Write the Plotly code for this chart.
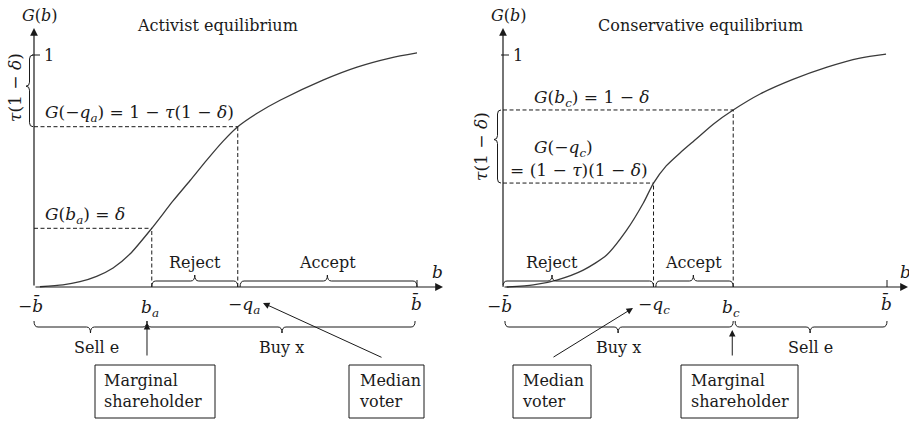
import plotly.graph_objects as go

# ---------------- values ----------------
# b runs from -b_bar (=-1) to b_bar (=1); G(b) is a cdf between 0 and 1
b_bar = 1.0

# Activist equilibrium
act_b = [-0.969, -0.849, -0.760, -0.673, -0.587, -0.499, -0.385, -0.273, -0.185,
         -0.098, -0.011, 0.064, 0.163, 0.285, 0.509, 0.687, 0.859, 1.0]
act_G = [0.001, 0.009, 0.023, 0.046, 0.082, 0.142, 0.253, 0.372, 0.459,
         0.547, 0.630, 0.691, 0.748, 0.805, 0.892, 0.948, 0.987, 1.009]
b_a = -0.385        # marginal shareholder, G(b_a) = delta
G_b_a = 0.253
neg_q_a = 0.064     # median voter, G(-q_a) = 1 - tau(1 - delta)
G_neg_q_a = 0.691

# Conservative equilibrium
con_b = [-0.981, -0.842, -0.720, -0.582, -0.460, -0.356, -0.269, -0.216, -0.150,
         -0.078, 0.009, 0.095, 0.199, 0.339, 0.510, 0.688, 0.859, 0.995]
con_G = [0.0, 0.009, 0.030, 0.073, 0.138, 0.245, 0.362, 0.448, 0.522,
         0.578, 0.640, 0.702, 0.763, 0.832, 0.895, 0.948, 0.987, 1.004]
neg_q_c = -0.216    # median voter, G(-q_c) = (1 - tau)(1 - delta)
G_neg_q_c = 0.448
b_c = 0.199         # marginal shareholder, G(b_c) = 1 - delta
G_b_c = 0.763

# ---------------- page geometry ----------------
FIG_W, FIG_H = 909, 422
PANEL_PX = [(0, 460), (460, 909)]
ORIGIN_PX = [34, 503]      # pixel column of -b_bar
BBAR_PX = [417, 887]       # pixel column of b_bar
ZERO_PY, ONE_PY = 287, 55  # pixel rows of G=0 and G=1
KX = [2 * b_bar / (BBAR_PX[i] - ORIGIN_PX[i]) for i in range(2)]
KY = 1.0 / (ZERO_PY - ONE_PY)

FONT = "DejaVu Serif"
INK = "#1a1a1a"
REFS = [("x", "y"), ("x2", "y2")]


def X(p, px):
    return -b_bar + (px - ORIGIN_PX[p]) * KX[p]


def Y(py):
    return (ZERO_PY - py) * KY


fig = go.Figure()
shapes, annotations = [], []


def seg(p, x0, y0, x1, y1, dash="solid", width=1.0, color=INK):
    xr, yr = REFS[p]
    shapes.append(dict(type="line", xref=xr, yref=yr, x0=x0, y0=y0, x1=x1, y1=y1,
                       line=dict(color=color, width=width, dash=dash)))


def arrow(p, tx, ty, hx, hy, width=1.0):
    xr, yr = REFS[p]
    annotations.append(dict(xref=xr, yref=yr, axref=xr, ayref=yr, x=hx, y=hy, ax=tx, ay=ty,
                            text="", showarrow=True, arrowhead=2, arrowsize=1.3,
                            arrowwidth=width, arrowcolor=INK, standoff=0, startstandoff=0))


def text(p, x, y, s, xanchor="center", size=16, angle=0, align="left"):
    xr, yr = REFS[p]
    annotations.append(dict(xref=xr, yref=yr, x=x, y=y, text=s, showarrow=False,
                            xanchor=xanchor, yanchor="middle", textangle=angle, align=align,
                            font=dict(family=FONT, size=size, color=INK)))


def box(p, x0, y0, x1, y1):
    xr, yr = REFS[p]
    shapes.append(dict(type="rect", xref=xr, yref=yr, x0=x0, y0=y0, x1=x1, y1=y1,
                       line=dict(color=INK, width=1)))


def hbrace(p, x1, x2, y0, tip, sign, h_px=12, r_px=4):
    xr, yr = REFS[p]
    h = h_px * KY * sign
    r = r_px * KX[p]
    ym, yt = y0 + h / 2, y0 + h
    path = (f"M {x1},{y0} Q {x1},{ym} {x1 + r},{ym} L {tip - r},{ym} "
            f"Q {tip},{ym} {tip},{yt} Q {tip},{ym} {tip + r},{ym} "
            f"L {x2 - r},{ym} Q {x2},{ym} {x2},{y0}")
    shapes.append(dict(type="path", xref=xr, yref=yr, path=path,
                       line=dict(color=INK, width=1)))


def vbrace(p, y1, y2, x0, tip, h_px=7, r_px=4):
    xr, yr = REFS[p]
    h = -h_px * KX[p]
    r = r_px * KY
    xm, xt = x0 + h / 2, x0 + h
    path = (f"M {x0},{y1} Q {xm},{y1} {xm},{y1 + r} L {xm},{tip - r} "
            f"Q {xm},{tip} {xt},{tip} Q {xm},{tip} {xm},{tip + r} "
            f"L {xm},{y2 - r} Q {xm},{y2} {x0},{y2}")
    shapes.append(dict(type="path", xref=xr, yref=yr, path=path,
                       line=dict(color=INK, width=1)))


def axes_frame(p, title, cx):
    x0 = -b_bar
    arrow(p, x0, 0, x0, Y(28), width=1.2)
    arrow(p, x0, 0, X(p, [443, 908][p]), 0, width=1.2)
    seg(p, X(p, ORIGIN_PX[p] - 2), 1.0, X(p, ORIGIN_PX[p] + 6), 1.0)
    seg(p, b_bar, 0, b_bar, Y(280))
    text(p, X(p, ORIGIN_PX[p] + 6), Y(15), "<i>G</i>(<i>b</i>)")
    text(p, X(p, cx), Y(25), title)
    text(p, X(p, ORIGIN_PX[p] + 8), 1.0, "1", xanchor="left")
    text(p, X(p, [437, 905][p]), Y(272), "<i>b</i>", size=17)
    text(p, X(p, ORIGIN_PX[p] - 4), Y(305), "−<i>b̄</i>", size=17)
    text(p, b_bar - 0.005, Y(303), "<i>b̄</i>", size=17)


# ---------------- curves ----------------
for p, (bx, gy) in enumerate([(act_b, act_G), (con_b, con_G)]):
    xr, yr = REFS[p]
    fig.add_trace(go.Scatter(x=bx, y=gy, mode="lines", xaxis=xr, yaxis=yr,
                             line=dict(color="#3a3a3a", width=1.3, shape="spline", smoothing=0.7),
                             hoverinfo="skip", showlegend=False))

DASH = "4px,2.5px"

# ---------------- left panel: activist ----------------
p = 0
axes_frame(p, "Activist equilibrium", 217)
seg(p, -b_bar, G_neg_q_a, neg_q_a, G_neg_q_a, dash=DASH)
seg(p, neg_q_a, 0, neg_q_a, G_neg_q_a, dash=DASH)
seg(p, -b_bar, G_b_a, b_a, G_b_a, dash=DASH)
seg(p, b_a, 0, b_a, G_b_a, dash=DASH)
text(p, X(p, 43), Y(113), "<i>G</i>(−<i>q<sub>a</sub></i>) = 1 − <i>τ</i>(1 − <i>δ</i>)", xanchor="left", size=17)
text(p, X(p, 43), Y(215), "<i>G</i>(<i>b<sub>a</sub></i>) = <i>δ</i>", xanchor="left", size=17)
vbrace(p, G_neg_q_a, 1.0, X(p, 33), (G_neg_q_a + 1.0) / 2 + 0.02)
text(p, X(p, 15), Y(88), "<i>τ</i>(1 − <i>δ</i>)", angle=-90, size=17)
hbrace(p, b_a, neg_q_a, 0, (b_a + neg_q_a) / 2, +1)
hbrace(p, neg_q_a + 0.012, b_bar, 0, (neg_q_a + b_bar) / 2, +1)
text(p, (b_a + neg_q_a) / 2, Y(262), "Reject")
text(p, (neg_q_a + b_bar) / 2, Y(262), "Accept")
text(p, b_a - 0.01, Y(308), "<i>b<sub>a</sub></i>", size=17)
text(p, neg_q_a + 0.035, Y(305), "−<i>q<sub>a</sub></i>", size=17)
split = b_a - 0.025
hbrace(p, -b_bar, split, Y(321), (-b_bar + split) / 2, -1)
hbrace(p, split, b_bar - 0.01, Y(321), (split + b_bar) / 2, -1)
text(p, (-b_bar + split) / 2 + 0.03, Y(347), "Sell e")
text(p, (split + b_bar) / 2, Y(347), "Buy x")
arrow(p, split, Y(357), split, Y(323))
box(p, X(p, 95), Y(365), X(p, 215), Y(418))
text(p, X(p, 102), Y(391), "Marginal<br>shareholder", xanchor="left")
box(p, X(p, 349), Y(365), X(p, 424), Y(418))
text(p, X(p, 357), Y(391), "Median<br>voter", xanchor="left")
arrow(p, X(p, 383), Y(358), X(p, 263), Y(303))

# ---------------- right panel: conservative ----------------
p = 1
axes_frame(p, "Conservative equilibrium", 700)
seg(p, -b_bar, G_b_c, b_c, G_b_c, dash=DASH)
seg(p, b_c, 0, b_c, G_b_c, dash=DASH)
seg(p, -b_bar, G_neg_q_c, neg_q_c, G_neg_q_c, dash=DASH)
seg(p, neg_q_c, 0, neg_q_c, G_neg_q_c, dash=DASH)
text(p, X(p, 532), Y(98), "<i>G</i>(<i>b<sub>c</sub></i>) = 1 − <i>δ</i>", xanchor="left", size=17)
text(p, X(p, 532), Y(148), "<i>G</i>(−<i>q<sub>c</sub></i>)", xanchor="left", size=17)
text(p, X(p, 508), Y(170), "= (1 − <i>τ</i>)(1 − <i>δ</i>)", xanchor="left", size=17)
vbrace(p, G_neg_q_c, G_b_c, X(p, 501), (G_neg_q_c + G_b_c) / 2 + 0.03)
text(p, X(p, 481), Y(147), "<i>τ</i>(1 − <i>δ</i>)", angle=-90, size=17)
reject_tip = X(p, 552)
hbrace(p, -b_bar, neg_q_c, 0, reject_tip, +1)
hbrace(p, neg_q_c + 0.012, b_c, 0, (neg_q_c + b_c) / 2, +1)
text(p, reject_tip, Y(262), "Reject")
text(p, (neg_q_c + b_c) / 2, Y(262), "Accept")
text(p, neg_q_c + 0.0, Y(305), "−<i>q<sub>c</sub></i>", size=17)
text(p, b_c - 0.01, Y(308), "<i>b<sub>c</sub></i>", size=17)
hbrace(p, -b_bar + 0.01, b_c, Y(321), (-b_bar + b_c) / 2, -1)
hbrace(p, b_c + 0.01, b_bar, Y(321), (b_c + b_bar) / 2, -1)
text(p, (-b_bar + b_c) / 2, Y(347), "Buy x")
text(p, (b_c + b_bar) / 2, Y(347), "Sell e")
arrow(p, b_c - 0.005, Y(357), b_c - 0.005, Y(330))
box(p, X(p, 513), Y(365), X(p, 591), Y(418))
text(p, X(p, 520), Y(391), "Median<br>voter", xanchor="left")
box(p, X(p, 681), Y(365), X(p, 798), Y(418))
text(p, X(p, 689), Y(391), "Marginal<br>shareholder", xanchor="left")
arrow(p, X(p, 552), Y(358), X(p, 633), Y(308))

# ---------------- layout ----------------
hidden = dict(visible=False, showgrid=False, zeroline=False, fixedrange=True)
fig.update_layout(
    width=FIG_W, height=FIG_H,
    margin=dict(l=0, r=0, t=0, b=0),
    paper_bgcolor="white", plot_bgcolor="white",
    showlegend=False,
    xaxis=dict(hidden, domain=[PANEL_PX[0][0] / FIG_W, PANEL_PX[0][1] / FIG_W],
               range=[X(0, PANEL_PX[0][0]), X(0, PANEL_PX[0][1])]),
    xaxis2=dict(hidden, domain=[PANEL_PX[1][0] / FIG_W, PANEL_PX[1][1] / FIG_W],
                range=[X(1, PANEL_PX[1][0]), X(1, PANEL_PX[1][1])]),
    yaxis=dict(hidden, domain=[0, 1], range=[Y(FIG_H), Y(0)], anchor="x"),
    yaxis2=dict(hidden, domain=[0, 1], range=[Y(FIG_H), Y(0)], anchor="x2"),
    shapes=shapes,
    annotations=annotations,
)

# the page's default body margin would shift the figure by 8px
fig.write_html("out.html", config={"displayModeBar": False},
               post_script="document.body.style.margin='0';")
